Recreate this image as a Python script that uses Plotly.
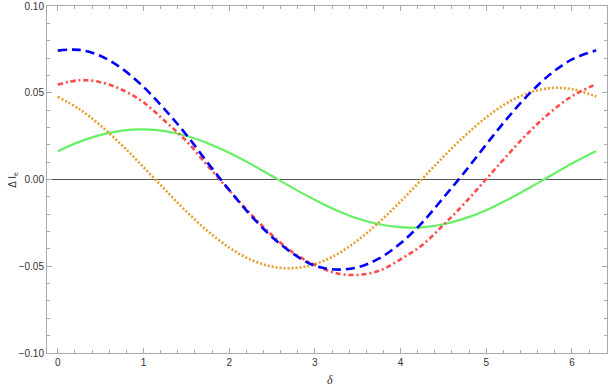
import plotly.graph_objects as go

x = [0.0, 0.25, 0.5, 0.75, 1.0, 1.25, 1.5, 1.75, 2.0, 2.25, 2.5, 2.75, 3.0, 3.25,
     3.5, 3.75, 4.0, 4.25, 4.5, 4.75, 5.0, 5.25, 5.5, 5.75, 6.0, 6.25, 6.283]

blue = [0.0743, 0.0747, 0.0712, 0.0639, 0.0534, 0.0403, 0.0258, 0.0096, -0.0060, -0.0206,
        -0.0331, -0.0429, -0.0497, -0.0519, -0.0506, -0.0455, -0.0368, -0.0250, -0.0105,
        0.0044, 0.0202, 0.0355, 0.0493, 0.0608, 0.0692, 0.0739, 0.0743]
red = [0.0547, 0.0572, 0.0561, 0.0517, 0.0445, 0.0337, 0.0222, 0.0078, -0.0062, -0.0198,
       -0.0321, -0.0423, -0.0493, -0.0540, -0.0550, -0.0526, -0.0460, -0.0379, -0.0262,
       -0.0136, 0.0003, 0.0142, 0.0274, 0.0388, 0.0480, 0.0542, 0.0547]
orange = [0.0477, 0.0406, 0.0311, 0.0197, 0.0071, -0.0058, -0.0184, -0.0298, -0.0392, -0.0462,
          -0.0502, -0.0511, -0.0488, -0.0433, -0.0351, -0.0246, -0.0127, 0.0002, 0.0131,
          0.0252, 0.0358, 0.0443, 0.0500, 0.0527, 0.0521, 0.0484, 0.0477]
green = [0.0163, 0.0217, 0.0257, 0.0282, 0.0289, 0.0279, 0.0252, 0.0209, 0.0154, 0.0090,
         0.0020, -0.0051, -0.0117, -0.0177, -0.0225, -0.0258, -0.0274, -0.0276, -0.0258,
         -0.0224, -0.0177, -0.0116, -0.0049, 0.0022, 0.0092, 0.0156, 0.0163]

y_ticks = [-0.10, -0.05, 0.00, 0.05, 0.10]
y_labels = ["−0.10", "−0.05", "0.00", "0.05", "0.10"]
x_ticks = [0, 1, 2, 3, 4, 5, 6]

fig = go.Figure()
fig.add_trace(go.Scatter(x=x, y=green, mode="lines", line=dict(color="rgb(102,240,102)", width=2.2, shape="spline")))
fig.add_trace(go.Scatter(x=x, y=orange, mode="lines", line=dict(color="rgb(230,158,45)", width=2.6, dash="2px,2px", shape="spline")))
fig.add_trace(go.Scatter(x=x, y=red, mode="lines", line=dict(color="rgb(255,75,75)", width=2.6, dash="5px,3px,2px,3px", shape="spline")))
fig.add_trace(go.Scatter(x=x, y=blue, mode="lines", line=dict(color="rgb(0,0,245)", width=2.6, dash="9px,5px", shape="spline")))

font_fam = "Liberation Sans, Arial, sans-serif"
axis_common = dict(
    showline=True, linecolor="#aaaaaa", linewidth=1, mirror="allticks",
    ticks="inside", ticklen=5, tickcolor="#aaaaaa", tickwidth=1,
    showgrid=False, automargin=False,
    tickfont=dict(family=font_fam, size=10, color="#333333"),
)

fig.update_xaxes(
    range=[-0.1257, 6.409], tickvals=x_ticks, ticktext=[str(t) for t in x_ticks],
    zeroline=False,
    minor=dict(ticks="inside", ticklen=3, tickcolor="#aaaaaa", dtick=0.2, tick0=0, showgrid=False),
    **axis_common,
)
fig.update_yaxes(
    range=[-0.1, 0.1], tickvals=y_ticks, ticktext=y_labels,
    zeroline=True, zerolinecolor="#555555", zerolinewidth=1,
    minor=dict(ticks="inside", ticklen=3, tickcolor="#aaaaaa", dtick=0.01, tick0=0, showgrid=False),
    **axis_common,
)

fig.add_annotation(text="<i>δ</i>", xref="paper", yref="paper", x=0.505, y=-0.078,
                   xanchor="center", yanchor="middle", showarrow=False,
                   font=dict(family="Liberation Serif, serif", size=12, color="#333333"))
fig.add_annotation(text="Δ I<sub>e</sub>", xref="paper", yref="paper", x=-0.062, y=0.5,
                   xanchor="center", yanchor="middle", showarrow=False, textangle=-90,
                   font=dict(family=font_fam, size=10, color="#333333"))

fig.update_layout(
    width=610, height=389,
    margin=dict(l=47, r=3, t=6, b=36),
    paper_bgcolor="white", plot_bgcolor="white",
    showlegend=False,
)

fig.write_html("out.html", config={"displayModeBar": False, "staticPlot": True},
               post_script="document.body.style.margin='0';document.body.style.overflow='hidden';")
